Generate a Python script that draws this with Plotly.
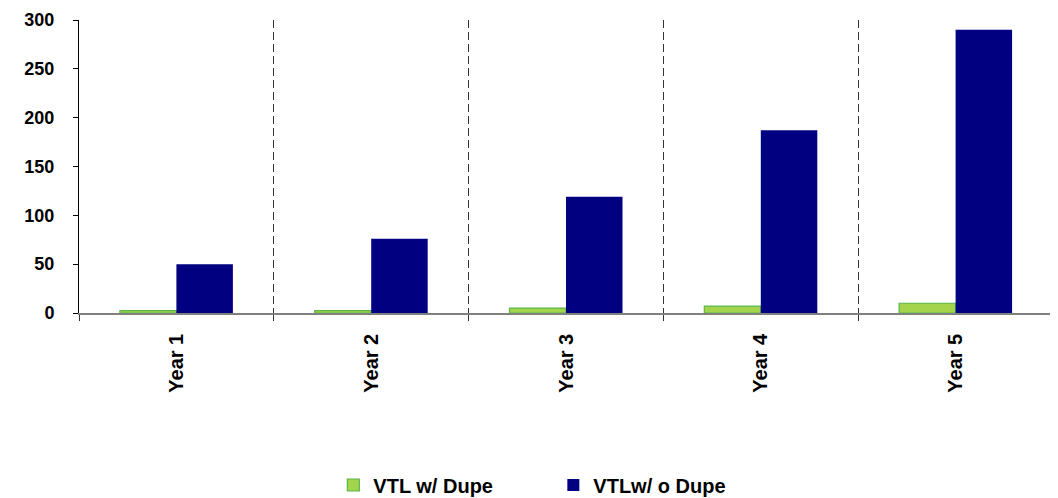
import plotly.graph_objects as go

categories = ["Year 1", "Year 2", "Year 3", "Year 4", "Year 5"]
with_dupe = [2.5, 2.5, 5, 7, 10]
without_dupe = [50, 76, 119, 187, 290]
y_ticks = [0, 50, 100, 150, 200, 250, 300]

fig = go.Figure()
fig.add_trace(go.Bar(
    x=categories, y=with_dupe, name="VTL w/ Dupe",
    marker=dict(color="#A2D44C", line=dict(color="#5DB548", width=1.2)),
))
fig.add_trace(go.Bar(
    x=categories, y=without_dupe, name="VTLw/ o Dupe",
    marker=dict(color="#000080", line=dict(color="#000080", width=0)),
))

font_family = "Liberation Sans, Arial, sans-serif"
fig.update_layout(
    width=1050, height=490,
    margin=dict(l=71, r=5, t=12, b=185, autoexpand=False),
    paper_bgcolor="white", plot_bgcolor="white",
    barmode="group", bargap=0.42, bargroupgap=0,
    showlegend=True,
    legend=dict(orientation="h", x=0.487, xanchor="center", y=-0.587, yanchor="middle",
                font=dict(family=font_family, size=20, color="black", weight="bold"),
                itemwidth=30, tracegroupgap=0, entrywidth=175),
    font=dict(family=font_family, color="black"),
)
fig.update_xaxes(
    type="category", tickangle=-90, tickson="boundaries",
    ticks="outside", ticklen=6, tickcolor="#333",
    showgrid=True, griddash="8px,4px", gridcolor="#333", gridwidth=1,
    showline=True, linecolor="#808080", linewidth=1.5,
    tickfont=dict(family=font_family, size=20, color="black", weight="bold"),
    ticklabelstandoff=11,
    range=[-0.5, 4.5],
)
fig.update_yaxes(
    range=[0, 300], tickvals=y_ticks, ticks="outside", ticklen=5, tickcolor="black",
    showgrid=False, zeroline=False,
    showline=True, linecolor="black", linewidth=1,
    tickfont=dict(family=font_family, size=18, color="black", weight="bold"),
    ticklabelstandoff=15,
)
fig.write_html("out.html")
